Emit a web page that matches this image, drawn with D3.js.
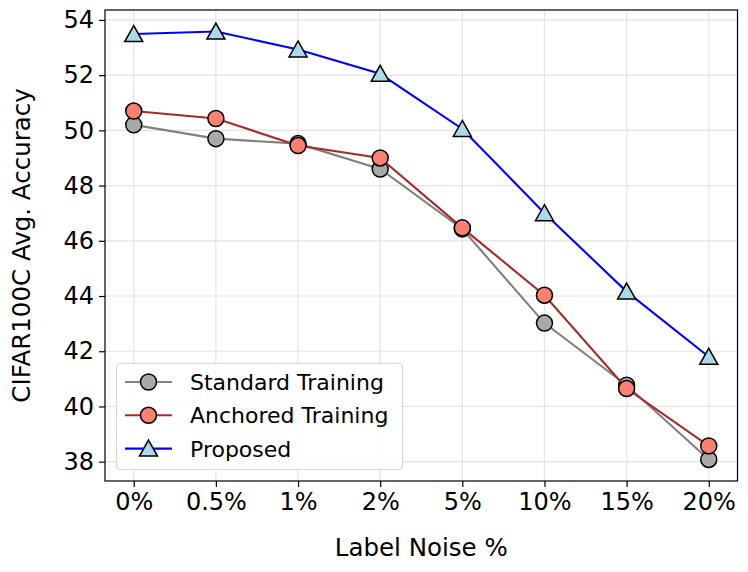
<!DOCTYPE html>
<html><head><meta charset="utf-8">
<script src="https://cdn.jsdelivr.net/npm/d3@7"></script>
<style>body{margin:0;background:#fff}svg{display:block}</style>
</head><body>
<svg id="c" width="748" height="572"></svg>
<script>
const categories = ["0%","0.5%","1%","2%","5%","10%","15%","20%"];
const standard = [50.2, 49.7, 49.52, 48.6, 46.43, 43.02, 40.77, 38.08];
const anchored = [50.7, 50.43, 49.45, 49.0, 46.47, 44.03, 40.65, 38.57];
const proposed = [53.49, 53.58, 52.93, 52.05, 50.05, 47.0, 44.16, 41.8];
const yTicks = [38, 40, 42, 44, 46, 48, 50, 52, 54];
const seriesNames = ["Standard Training", "Anchored Training", "Proposed"];

const series = [
  {name: seriesNames[0], values: standard, line: "#808080", fill: "#a9a9a9", marker: "circle"},
  {name: seriesNames[1], values: anchored, line: "#a52a2a", fill: "#fa8072", marker: "circle"},
  {name: seriesNames[2], values: proposed, line: "#0000ff", fill: "#add8e6", marker: "triangle"}
];

const svg = d3.select("#c");
const L = 105, R = 737.5, T = 10, B = 481;
const FONT = "DejaVu Sans, sans-serif";

const xIdx = d3.scaleLinear().domain([-0.35, categories.length - 1 + 0.35]).range([L, R]);
const y = d3.scaleLinear().domain([37.3, 54.36]).range([B, T]);

// grid
const g = svg.append("g");
g.selectAll(".gx").data(categories).join("line")
  .attr("x1", (d,i)=>xIdx(i)).attr("x2", (d,i)=>xIdx(i))
  .attr("y1", T).attr("y2", B).attr("stroke", "#e3e3e3").attr("stroke-width", 1.2);
g.selectAll(".gy").data(yTicks).join("line")
  .attr("x1", L).attr("x2", R).attr("y1", d=>y(d)).attr("y2", d=>y(d))
  .attr("stroke", "#e3e3e3").attr("stroke-width", 1.2);

// axes
const xAxis = d3.axisBottom(xIdx).tickValues(d3.range(categories.length))
  .tickFormat(i => categories[i]).tickSize(6).tickPadding(6);
const ax = svg.append("g").attr("transform", `translate(0,${B})`).call(xAxis);
ax.select(".domain").remove();
ax.selectAll("text").attr("font-family", FONT).attr("font-size", 24).attr("fill", "#000");
ax.selectAll("line").attr("stroke", "#000").attr("stroke-width", 1.2);

const yAxis = d3.axisLeft(y).tickValues(yTicks).tickSize(6).tickPadding(5);
const ay = svg.append("g").attr("transform", `translate(${L},0)`).call(yAxis);
ay.select(".domain").remove();
ay.selectAll("text").attr("font-family", FONT).attr("font-size", 24).attr("fill", "#000");
ay.selectAll("line").attr("stroke", "#000").attr("stroke-width", 1.2);

// lines & markers
const lineGen = d3.line().x((d,i)=>xIdx(i)).y(d=>y(d));
function drawMarker(sel, s, cx, cy) {
  if (s.marker === "circle") {
    sel.append("circle").attr("cx", cx).attr("cy", cy).attr("r", 8)
      .attr("fill", s.fill).attr("stroke", "#000").attr("stroke-width", 1.5);
  } else {
    sel.append("path").attr("d", "M0,-8.5L9,7.5L-9,7.5Z")
      .attr("transform", `translate(${cx},${cy})`)
      .attr("fill", s.fill).attr("stroke", "#000").attr("stroke-width", 1.5);
  }
}
series.forEach(s => {
  const sg = svg.append("g");
  sg.append("path").datum(s.values).attr("d", lineGen)
    .attr("fill", "none").attr("stroke", s.line).attr("stroke-width", 2.1);
  s.values.forEach((v,i) => drawMarker(sg, s, xIdx(i), y(v)));
});

// frame
svg.append("rect").attr("x", L).attr("y", T).attr("width", R-L).attr("height", B-T)
  .attr("fill", "none").attr("stroke", "#000").attr("stroke-width", 1.2);

// legend
const lg = svg.append("g");
lg.append("rect").attr("x", 116.5).attr("y", 363.5).attr("width", 286).attr("height", 106)
  .attr("rx", 4).attr("fill", "#fff").attr("fill-opacity", 0.85)
  .attr("stroke", "#d6d6d6").attr("stroke-width", 1.2);
series.forEach((s,k) => {
  const cy = 382 + k*33.3;
  lg.append("line").attr("x1", 125).attr("x2", 172).attr("y1", cy).attr("y2", cy)
    .attr("stroke", s.line).attr("stroke-width", 2.1);
  drawMarker(lg, s, 148.5, cy);
  lg.append("text").attr("x", 190).attr("y", cy).attr("dy", "0.36em")
    .attr("font-family", FONT).attr("font-size", 22).text(s.name);
});

// axis labels
svg.append("text").attr("x", (L+R)/2).attr("y", 556).attr("text-anchor", "middle")
  .attr("font-family", FONT).attr("font-size", 24.5).text("Label Noise %");
svg.append("text").attr("transform", `translate(30,${(T+B)/2}) rotate(-90)`)
  .attr("text-anchor", "middle").attr("font-family", FONT).attr("font-size", 24.5)
  .text("CIFAR100C Avg. Accuracy");
</script>
</body></html>
